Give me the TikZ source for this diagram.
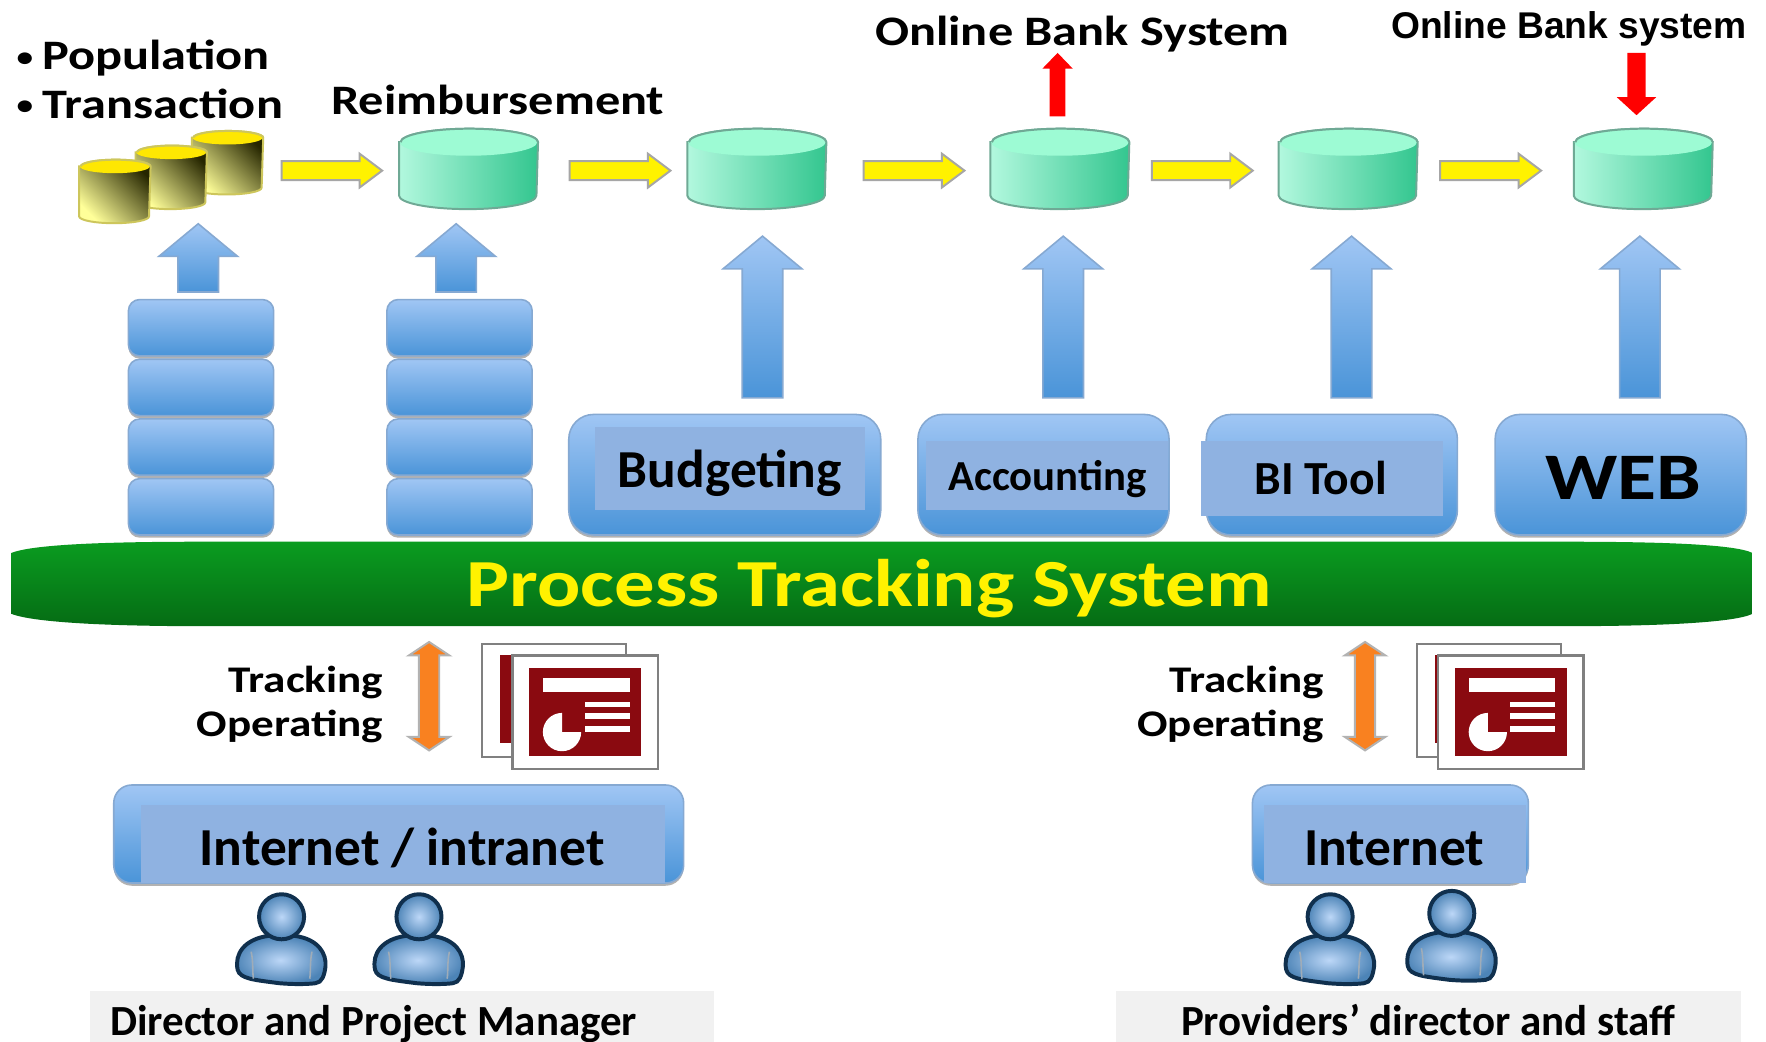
\documentclass[tikz,border=0pt]{standalone}
\usepackage{fontspec}
\setmainfont{Carlito}
\newfontfamily\wideface[FakeStretch=1.2]{Carlito}
\newfontfamily\arialface{Liberation Sans}
\usetikzlibrary{calc,shadows}
\definecolor{BoxTop}{HTML}{A0C6F4}
\definecolor{BoxBottom}{HTML}{4A94D8}
\definecolor{BoxEdge}{HTML}{86A9D2}
\definecolor{BoxInner}{HTML}{8FB2E1}
\definecolor{DbTop}{HTML}{9DFBD4}
\definecolor{DbLeft}{HTML}{B2F8DE}
\definecolor{DbMid}{HTML}{6CE3B9}
\definecolor{DbRight}{HTML}{33C68F}
\definecolor{DbEdge}{HTML}{6FA995}
\definecolor{BarTop}{HTML}{0A9C20}
\definecolor{BarBottom}{HTML}{056C14}
\definecolor{ArrowOrange}{HTML}{F98120}
\definecolor{SlideRed}{HTML}{8A0A10}
\definecolor{PersonEdge}{HTML}{10304E}
\definecolor{LabelGray}{HTML}{F1F1F1}
\newcommand{\dotmark}{\makebox[.23cm][l]{\raisebox{.035cm}{\fontsize{7}{7}\selectfont\textbullet}}}
\tikzset{
  blockarrow/.style n args={3}{to path={
    ($(\tikztostart)!#1!90:(\tikztotarget)$)
    -- ($(\tikztotarget)!#3!(\tikztostart)!#1!90:(\tikztotarget)$)
    -- ($(\tikztotarget)!#3!(\tikztostart)!#2!90:(\tikztotarget)$)
    -- (\tikztotarget)
    -- ($(\tikztotarget)!#3!(\tikztostart)!#2!-90:(\tikztotarget)$)
    -- ($(\tikztotarget)!#3!(\tikztostart)!#1!-90:(\tikztotarget)$)
    -- ($(\tikztostart)!#1!-90:(\tikztotarget)$) -- cycle}},
  twoheadarrow/.style n args={3}{to path={
    ($(\tikztostart)!#3!(\tikztotarget)!#1!90:(\tikztotarget)$)
    -- ($(\tikztotarget)!#3!(\tikztostart)!#1!90:(\tikztotarget)$)
    -- ($(\tikztotarget)!#3!(\tikztostart)!#2!90:(\tikztotarget)$)
    -- (\tikztotarget)
    -- ($(\tikztotarget)!#3!(\tikztostart)!#2!-90:(\tikztotarget)$)
    -- ($(\tikztotarget)!#3!(\tikztostart)!#1!-90:(\tikztotarget)$)
    -- ($(\tikztostart)!#3!(\tikztotarget)!#1!-90:(\tikztotarget)$)
    -- ($(\tikztostart)!#3!(\tikztotarget)!#2!-90:(\tikztotarget)$)
    -- (\tikztostart)
    -- ($(\tikztostart)!#3!(\tikztotarget)!#2!90:(\tikztotarget)$) -- cycle}},
  bluearrow/.style={blockarrow={.18cm}{.35cm}{.29cm},draw=BoxEdge,line width=.4pt,top color=BoxTop,bottom color=BoxBottom},
  yellowarrow/.style={blockarrow={.085cm}{.15cm}{.20cm},draw=gray!70,line width=.5pt,fill=yellow},
  redarrow/.style={draw=none,fill=red},
  orangearrow/.style={twoheadarrow={.09cm}{.18cm}{.12cm},draw=gray!60,line width=.5pt,fill=ArrowOrange},
  bluebox/.style={draw=BoxEdge,line width=.4pt,rounded corners=.1cm,top color=BoxTop,bottom color=BoxBottom,inner sep=0pt,
    drop shadow={shadow xshift=0pt,shadow yshift=-.7pt,opacity=.3,fill=black}},
  stackbox/.style={bluebox,minimum width=1.29cm,minimum height=.50cm},
  bigbox/.style={bluebox,rounded corners=.22cm,minimum width=2.23cm,minimum height=1.07cm},
  netbox/.style={bluebox,rounded corners=.16cm,minimum height=.87cm},
  innerbox/.style={fill=BoxInner,inner sep=0pt},
  greenbody/.style={left color=DbLeft,middle color=DbMid,right color=DbRight},
  yellowbody/.style={top color=yellow!40,middle color=yellow!45!black!70,bottom color=black!85!yellow,shading angle=135},
  toptext/.style={font=\wideface\fontsize{10.6}{13}\bfseries,inner sep=0pt},
  sidetext/.style={font=\wideface\fontsize{9.5}{12}\bfseries,inner sep=0pt,anchor=east},
  boxtext/.style={font=\fontsize{13.5}{15}\bfseries,inner sep=0pt},
  peopletext/.style={font=\fontsize{10.85}{13}\bfseries,inner sep=0pt,anchor=base},
  graylabel/.style={fill=LabelGray,inner sep=0pt,minimum height=.45cm},
  pics/person/.style={code={
    \shade[draw=PersonEdge,line width=1pt,inner color=BoxTop!70!white,outer color=BoxBottom!70!PersonEdge!90]
      (-.12,-.17) .. controls (-.33,-.20) and (-.42,-.33) .. (-.39,-.47)
      .. controls (-.37,-.55) and (-.25,-.56) .. (-.02,-.59)
      .. controls (.10,-.60) and (.22,-.60) .. (.30,-.59)
      .. controls (.36,-.585) and (.38,-.52) .. (.39,-.44)
      .. controls (.40,-.33) and (.33,-.20) .. (.12,-.17) -- cycle;
    \shade[draw=PersonEdge,line width=1pt,inner color=BoxTop!70!white,outer color=BoxBottom!70!PersonEdge!90]
      (0,0) circle (.20);
    \draw[PersonEdge!40,line width=.4pt] (-.27,-.31) .. controls (-.25,-.40) and (-.26,-.48) .. (-.25,-.55);
    \draw[PersonEdge!40,line width=.4pt] (.27,-.31) .. controls (.25,-.40) and (.26,-.48) .. (.25,-.55);
  }},
  pics/slideicon/.style 2 args={code={
    \draw[gray,line width=.6pt,fill=white] (-#1,.10) rectangle ++(1.28,-1.00);
    \fill[SlideRed] (-#2,-.00) rectangle (0,-.78);
    \draw[gray,line width=.6pt,fill=white] (0,0) rectangle (1.29,-1.01);
    \fill[SlideRed] (.15,-.11) rectangle (1.14,-.89);
    \fill[white] (.27,-.20) rectangle (1.04,-.32);
    \fill[white] (.64,-.41) rectangle (1.04,-.46);
    \fill[white] (.64,-.51) rectangle (1.04,-.56);
    \fill[white] (.64,-.63) rectangle (1.04,-.68);
    \fill[white] (.44,-.68) -- ++(0:.17) arc (0:-270:.17) -- cycle;
  }},
}
\newcommand{\dbbody}[6]{
    \shade[#2,draw=#4,line width=.5pt] ([yshift=-#6]#1.north west) -- ([yshift=#6]#1.south west)
        arc[start angle=180,end angle=360,x radius=#5,y radius=#6] -- ([yshift=-#6]#1.north east)
        arc[start angle=0,end angle=180,x radius=#5,y radius=#6] -- cycle;
    \fill[#3] ([yshift=-#6]#1.north) ellipse [x radius=#5,y radius=#6];
    \draw[#4,line width=.5pt] ([yshift=-#6]#1.north east) arc[start angle=0,end angle=180,x radius=#5,y radius=#6];
}
\newcommand{\greendb}[2]{
    \node[inner sep=0pt,minimum width=1.22cm,minimum height=.70cm] (#1) at (#2) {};
    \dbbody{#1}{greenbody}{DbTop}{DbEdge}{.61cm}{.12cm}
}
\newcommand{\yellowdb}[2]{
    \node[inner sep=0pt,minimum width=.62cm,minimum height=.55cm] (#1) at (#2) {};
    \dbbody{#1}{yellowbody}{yellow!90!orange}{yellow!55!gray}{.31cm}{.06cm}
}
\begin{document}
\begin{tikzpicture}
    \useasboundingbox (0,0) rectangle (15.68,9.25);
    \fill[white] (0,0) rectangle (15.68,9.25);

    \node[toptext,anchor=west] (population) at (.14,8.73) {\dotmark Population};
    \node[toptext,anchor=west] (transaction) at (.14,8.33) {\dotmark Transaction};
    \node[toptext] (reimburse) at (4.42,8.36) {Reimbursement};
    \node[toptext] (bankOut) at (9.61,8.95) {Online Bank System};
    \node[toptext,font=\arialface\fontsize{9.4}{11}\bfseries] (bankIn) at (13.93,8.99) {Online Bank system};

    \yellowdb{ydbC}{2.02,7.805}
    \yellowdb{ydbB}{1.52,7.675}
    \yellowdb{ydbA}{1.02,7.55}
    \greendb{dbReimb}{4.16,7.75}
    \greendb{dbBudget}{6.72,7.75}
    \greendb{dbAccount}{9.41,7.75}
    \greendb{dbTool}{11.97,7.75}
    \greendb{dbWeb}{14.59,7.75}

    \coordinate (popStart) at (2.50,7.735);
    \draw[yellowarrow] (popStart) to ([xshift=-.15cm]dbReimb.west |- popStart);
    \draw[yellowarrow] ([xshift=.28cm]dbReimb.east |- popStart) to ([xshift=-.15cm]dbBudget.west |- popStart);
    \draw[yellowarrow] ([xshift=.33cm]dbBudget.east |- popStart) to ([xshift=-.23cm]dbAccount.west |- popStart);
    \draw[yellowarrow] ([xshift=.20cm]dbAccount.east |- popStart) to ([xshift=-.23cm]dbTool.west |- popStart);
    \draw[yellowarrow] ([xshift=.20cm]dbTool.east |- popStart) to ([xshift=-.29cm]dbWeb.west |- popStart);

    \foreach \n/\y in {1/6.34,2/5.81,3/5.28,4/4.75}{
        \node[stackbox] (stackA\n) at (1.785,\y) {};
        \node[stackbox] (stackB\n) at (4.08,\y) {};
    }

    \node[bigbox,minimum width=2.77cm] (budget) at (6.435,5.035) {};
    \node[innerbox,minimum width=2.40cm,minimum height=.74cm] (budgetIn) at (6.48,5.09) {};
    \node[boxtext] (budgetText) at (6.48,5.05) {Budgeting};

    \node[bigbox] (account) at (9.265,5.035) {};
    \node[innerbox,minimum width=2.15cm,minimum height=.61cm] (accountIn) at (9.295,5.025) {};
    \node[boxtext,font=\fontsize{10.8}{13}\bfseries] (accountText) at (9.30,5.00) {Accounting};

    \node[bigbox] (tool) at (11.825,5.035) {};
    \node[innerbox,minimum width=2.15cm,minimum height=.66cm] (toolIn) at (11.735,5.00) {};
    \node[boxtext,font=\fontsize{12}{13}\bfseries] (toolText) at (11.725,5.01) {BI Tool};

    \node[bigbox] (web) at (14.39,5.035) {};
    \node[boxtext,font=\wideface\fontsize{16.8}{20}\bfseries] (webText) at (14.41,5.01) {WEB};

    \draw[bluearrow] ([xshift=-.025cm,yshift=.06cm]stackA1.north) to ([xshift=.24cm,yshift=-.13cm]ydbB.south);
    \draw[bluearrow] ([xshift=-.03cm,yshift=.06cm]stackB1.north) to ([xshift=-.11cm,yshift=-.13cm]dbReimb.south);
    \draw[bluearrow] ([xshift=.335cm,yshift=.14cm]budget.north) to ([xshift=.05cm,yshift=-.24cm]dbBudget.south);
    \draw[bluearrow] ([xshift=.175cm,yshift=.14cm]account.north) to ([xshift=.03cm,yshift=-.24cm]dbAccount.south);
    \draw[bluearrow] ([xshift=.175cm,yshift=.14cm]tool.north) to ([xshift=.03cm,yshift=-.24cm]dbTool.south);
    \draw[bluearrow] ([xshift=.17cm,yshift=.14cm]web.north) to ([xshift=-.03cm,yshift=-.24cm]dbWeb.south);

    \coordinate (bankOutTip) at (9.39,8.78);
    \coordinate (bankInTail) at (14.53,8.78);
    \draw[redarrow,blockarrow={.07cm}{.135cm}{.14cm}] ([xshift=-.02cm,yshift=.11cm]dbAccount.north) to (bankOutTip);
    \draw[redarrow,blockarrow={.08cm}{.175cm}{.16cm}] (bankInTail) to ([xshift=-.06cm,yshift=.12cm]dbWeb.north);

    \shade[top color=BarTop,bottom color=BarBottom]
        (.10,4.34) .. controls (.30,4.42) and (1.00,4.44) .. (1.80,4.44) -- (13.90,4.44)
        .. controls (14.70,4.44) and (15.40,4.42) .. (15.56,4.34) -- (15.56,3.80)
        .. controls (15.40,3.72) and (14.70,3.69) .. (13.90,3.69) -- (1.80,3.69)
        .. controls (1.00,3.69) and (.30,3.72) .. (.10,3.80) -- cycle;
    \node[font=\wideface\fontsize{17}{21}\bfseries,text=yellow,inner sep=0pt] (trackSys) at (7.72,4.02) {Process Tracking System};

    \node[netbox,minimum width=5.06cm] (intranet) at (3.54,1.845) {};
    \node[innerbox,minimum width=4.65cm,minimum height=.69cm] (intranetIn) at (3.575,1.755) {};
    \node[boxtext] (intranetText) at (3.57,1.72) {Internet / intranet};
    \node[netbox,minimum width=2.45cm] (internet) at (12.345,1.845) {};
    \node[innerbox,minimum width=2.33cm,minimum height=.69cm] (internetIn) at (12.385,1.755) {};
    \node[boxtext] (internetText) at (12.38,1.72) {Internet};

    \node[sidetext] (trackA) at (3.41,3.19) {Tracking};
    \node[sidetext] (operA) at (3.41,2.80) {Operating};
    \node[sidetext] (trackB) at (11.76,3.19) {Tracking};
    \node[sidetext] (operB) at (11.76,2.80) {Operating};

    \coordinate (orangeTopA) at (3.81,3.55);
    \coordinate (orangeTopB) at (12.12,3.55);
    \draw[orangearrow] (orangeTopA) to ([yshift=.30cm]intranet.north -| orangeTopA);
    \draw[orangearrow] (orangeTopB) to ([yshift=.30cm]internet.north -| orangeTopB);

    \pic at (4.55,3.43) {slideicon={.27}{.11}};
    \pic at (12.77,3.43) {slideicon={.19}{.03}};

    \pic (personA) at (2.50,1.11) {person};
    \pic (personB) at (3.72,1.11) {person};
    \pic (personC) at (11.81,1.11) {person};
    \pic (personD) at (12.89,1.14) {person};

    \node[graylabel,minimum width=5.54cm] (directorBar) at (3.57,.225) {};
    \node[peopletext,anchor=base west] (directorText) at (.97,.055) {Director and Project Manager};
    \node[graylabel,minimum width=5.55cm] (providerBar) at (12.685,.225) {};
    \node[peopletext] (providerText) at (12.68,.055) {Providers’ director and staff};
\end{tikzpicture}
\end{document}
